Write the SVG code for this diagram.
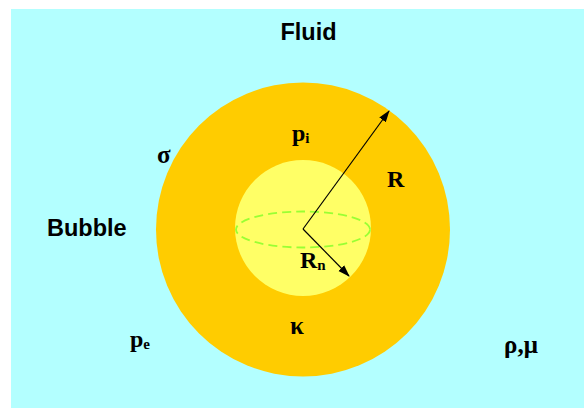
<svg xmlns="http://www.w3.org/2000/svg" width="584" height="408" viewBox="0 0 584 408">
<style>
.lbl{font-family:"Liberation Sans",Arial,sans-serif;font-weight:bold;font-size:23.5px;fill:#000}
.sym{font-family:"Liberation Serif","Times New Roman",serif;font-weight:bold;font-size:24px;fill:#000}
.sub{font-size:15px}
.grk{font-family:"Liberation Serif","Times New Roman",serif;font-weight:bold;font-size:25px;fill:#000}
.arr{stroke:#000;stroke-width:1.2;fill:none;marker-end:url(#ah)}
</style>
<defs>
<marker id="ah" viewBox="0 0 12 10" refX="11" refY="5" markerWidth="12" markerHeight="10" markerUnits="userSpaceOnUse" orient="auto">
<path d="M0,1 L12,5 L0,9 z" fill="#000"/>
</marker>
</defs>
<rect x="11" y="9" width="573" height="399" fill="#B3FFFF"/>
<g id="outer"><circle cx="303" cy="229.5" r="147" fill="#FFCC00"/></g>
<g id="inner"><circle cx="303" cy="228" r="68" fill="#FFFF66"/>
<ellipse cx="303" cy="229.5" rx="67" ry="18" fill="none" stroke="#99FF33" stroke-width="1.8" stroke-dasharray="9,5"/></g>
<g id="connectors">
<line class="arr" x1="303" y1="229" x2="389" y2="111"/>
<line class="arr" x1="303" y1="229" x2="349" y2="276"/>
</g>
<text class="lbl" x="308.5" y="39.5" text-anchor="middle">Fluid</text>
<text class="lbl" x="47" y="236">Bubble</text>
<text class="sym" x="292" y="141">p<tspan class="sub" dy="2">i</tspan></text>
<text class="sym" x="387" y="187">R</text>
<text class="sym" x="300" y="268">R<tspan class="sub" dy="2">n</tspan></text>
<text class="sym" x="130" y="347">p<tspan class="sub" dy="2">e</tspan></text>
<text class="grk" x="157" y="163">σ</text>
<text class="grk" x="290" y="334">κ</text>
<text class="grk" x="504" y="353">ρ,μ</text>
</svg>
